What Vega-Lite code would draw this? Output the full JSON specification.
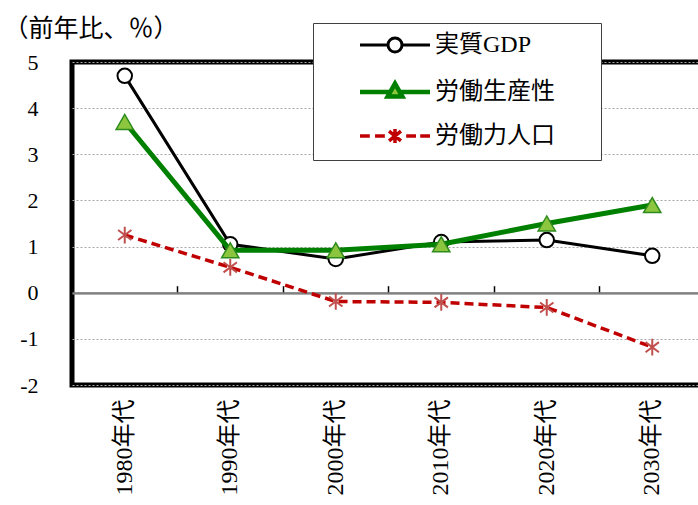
{
  "$schema": "https://vega.github.io/schema/vega-lite/v6.json",
  "width": 633,
  "height": 323,
  "autosize": {"type": "none"},
  "padding": {"left": 72, "top": 62, "right": 0, "bottom": 120},
  "background": "white",
  "config": {
    "view": {"stroke": "black", "strokeWidth": 5},
    "font": "Liberation Serif, Noto Sans CJK JP"
  },
  "data": {
    "values": [
      {"decade": "1980年代", "series": "実質GDP", "value": 4.70},
      {"decade": "1990年代", "series": "実質GDP", "value": 1.05},
      {"decade": "2000年代", "series": "実質GDP", "value": 0.73},
      {"decade": "2010年代", "series": "実質GDP", "value": 1.10},
      {"decade": "2020年代", "series": "実質GDP", "value": 1.14},
      {"decade": "2030年代", "series": "実質GDP", "value": 0.80},
      {"decade": "1980年代", "series": "労働生産性", "value": 3.70},
      {"decade": "1990年代", "series": "労働生産性", "value": 0.92},
      {"decade": "2000年代", "series": "労働生産性", "value": 0.92},
      {"decade": "2010年代", "series": "労働生産性", "value": 1.05},
      {"decade": "2020年代", "series": "労働生産性", "value": 1.50},
      {"decade": "2030年代", "series": "労働生産性", "value": 1.90},
      {"decade": "1980年代", "series": "労働力人口", "value": 1.25},
      {"decade": "1990年代", "series": "労働力人口", "value": 0.55},
      {"decade": "2000年代", "series": "労働力人口", "value": -0.19},
      {"decade": "2010年代", "series": "労働力人口", "value": -0.21},
      {"decade": "2020年代", "series": "労働力人口", "value": -0.32},
      {"decade": "2030年代", "series": "労働力人口", "value": -1.18}
    ]
  },
  "resolve": {"axis": {"x": "independent"}},
  "layer": [
    {
      "encoding": {
        "x": {
          "field": "decade", "type": "nominal", "sort": null,
          "scale": {"type": "band", "paddingInner": 0, "paddingOuter": 0},
          "axis": {
            "orient": "bottom", "labelAngle": 270, "labelPadding": 14,
            "ticks": false, "domain": false, "grid": false, "title": null,
            "labelFontSize": 24, "labelColor": "#000000",
            "labelFont": "Liberation Serif, Noto Sans CJK JP"
          }
        },
        "y": {
          "field": "value", "type": "quantitative",
          "scale": {"domain": [-2, 5], "nice": false, "zero": false},
          "axis": {
            "values": [-2, -1, 0, 1, 2, 3, 4, 5],
            "labelExpr": "'' + datum.value",
            "ticks": false, "domain": false,
            "labelFontSize": 22, "labelPadding": 34, "labelColor": "#000000",
            "labelFont": "Liberation Serif",
            "grid": true,
            "gridColor": {"condition": {"test": "datum.value === 0", "value": "#808080"}, "value": "#a6a6a6"},
            "gridDash": {"condition": {"test": "datum.value === 0", "value": [1, 0]}, "value": [2, 2]},
            "gridWidth": {"condition": {"test": "datum.value === 0", "value": 2}, "value": 1},
            "title": "（前年比、％）",
            "titleAngle": 0, "titleAlign": "left", "titleBaseline": "middle",
            "titleX": -69, "titleY": -34,
            "titleFontSize": 25, "titleFontWeight": "normal", "titleColor": "#000000",
            "titleFont": "Noto Sans CJK JP"
          }
        }
      },
      "layer": [
        {
          "transform": [{"filter": "datum.series === '実質GDP'"}],
          "mark": {"type": "line", "strokeWidth": 3},
          "encoding": {
            "color": {
              "field": "series", "type": "nominal",
              "scale": {"domain": ["実質GDP", "労働生産性", "労働力人口"], "range": ["#000000", "#008000", "#c00000"]},
              "legend": {
                "title": "　", "titleOrient": "right", "titlePadding": 36, "titleFontSize": 24,
                "orient": "none", "legendX": 241, "legendY": -39,
                "fillColor": "white", "strokeColor": "#404040",
                "padding": 10, "symbolSize": 4900, "symbolOffset": 60,
                "labelFontSize": 24, "labelFont": "Liberation Serif, Noto Sans CJK JP",
                "labelOffset": 28, "labelColor": "#000000", "rowPadding": 16,
                "labelLimit": 400,
                "encode": {
                  "symbols": {
                    "update": {
                      "shape": {"signal": "datum.value === '実質GDP' ? 'M-1,0H-0.2M0.2,0H1M0.2,0A0.2,0.2,0,1,1,-0.2,0A0.2,0.2,0,1,1,0.2,0' : datum.value === '労働生産性' ? 'M-1,0H-0.14M0.14,0H1M0,-0.24L0.21,0.13H-0.21Z' : 'M-1,0H-0.72M-0.57,0H-0.29M0.32,0H0.6M0.72,0H1M0,-0.2V0.2M-0.17,-0.14L0.17,0.14M-0.17,0.14L0.17,-0.14'"},
                      "fill": {"signal": "datum.value === '実質GDP' ? 'white' : datum.value === '労働生産性' ? '#8cc63f' : 'transparent'"},
                      "stroke": {"signal": "datum.value === '実質GDP' ? '#000000' : datum.value === '労働生産性' ? '#008000' : '#c00000'"},
                      "strokeWidth": {"signal": "datum.value === '実質GDP' ? 3 : datum.value === '労働生産性' ? 4.5 : 3.5"},
                      "opacity": {"value": 1}
                    }
                  }
                }
              }
            }
          }
        },
        {
          "transform": [{"filter": "datum.series === '実質GDP'"}],
          "mark": {"type": "point", "shape": "circle", "filled": true, "fill": "white", "stroke": "black", "strokeWidth": 2, "size": 210, "opacity": 1}
        },
        {
          "transform": [{"filter": "datum.series === '労働生産性'"}],
          "mark": {"type": "line", "strokeWidth": 5},
          "encoding": {"color": {"field": "series", "type": "nominal"}}
        },
        {
          "transform": [{"filter": "datum.series === '労働生産性'"}],
          "mark": {"type": "point", "shape": "triangle-up", "filled": true, "fill": "#8cc63f", "stroke": "#2e8b1e", "strokeWidth": 1.5, "size": 300, "opacity": 1}
        },
        {
          "transform": [{"filter": "datum.series === '労働力人口'"}],
          "mark": {"type": "line", "strokeWidth": 3.5, "strokeDash": [9, 5]},
          "encoding": {"color": {"field": "series", "type": "nominal"}}
        },
        {
          "transform": [{"filter": "datum.series === '労働力人口'"}],
          "mark": {"type": "point", "shape": "M0,-1V1M-0.8,-0.6L0.8,0.6M-0.8,0.6L0.8,-0.6", "filled": false, "stroke": "#c0504d", "strokeWidth": 2, "size": 280, "opacity": 1}
        }
      ]
    },
    {
      "mark": {"type": "point", "opacity": 0},
      "encoding": {
        "x": {
          "field": "decade", "type": "nominal", "sort": null,
          "axis": {
            "orient": "top", "offset": -230.71,
            "labels": false, "ticks": true, "tickSize": 7, "tickColor": "#000000", "tickWidth": 1.5,
            "bandPosition": 0, "domain": true, "domainColor": "#808080", "domainWidth": 2,
            "grid": false, "title": null
          }
        }
      }
    }
  ]
}
